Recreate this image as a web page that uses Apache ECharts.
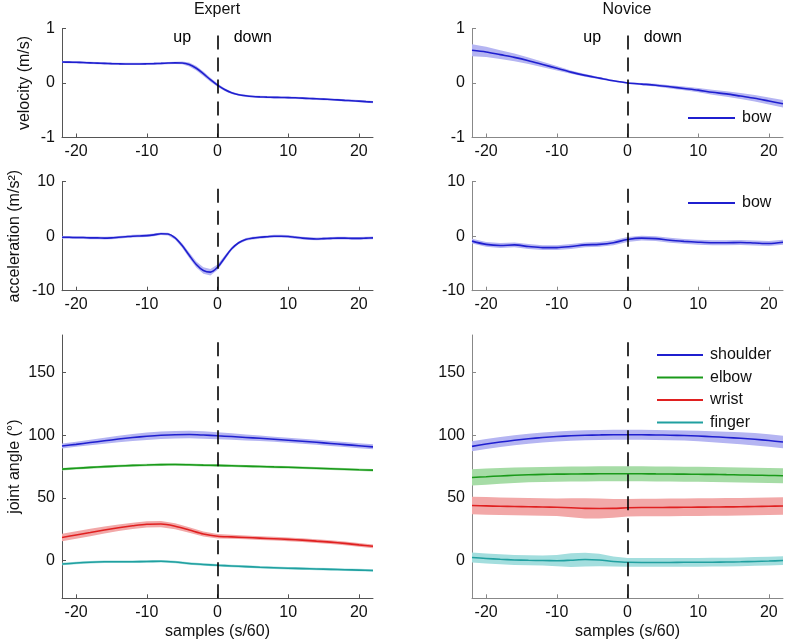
<!DOCTYPE html>
<html><head><meta charset="utf-8">
<script src="https://cdn.jsdelivr.net/npm/echarts@6/dist/echarts.min.js"></script>
<style>html,body{margin:0;padding:0;background:#fff}#c{width:787px;height:644px}</style>
</head><body><div id="c"></div>
<script>
// ---------- data ----------
const xFine = [-22,-21,-20,-19,-18,-17,-16,-15,-14,-13,-12,-11,-10,-9,-8,-7,-6,-5,-4,-3,-2,-1,0,1,2,3,4,5,6,7,8,9,10,11,12,13,14,15,16,17,18,19,20,21,22];
const xCoarse = [-22,-20,-18,-16,-14,-12,-10,-8,-6,-4,-2,0,2,4,6,8,10,12,14,16,18,20,22];
const xTicks = [-20,-10,0,10,20];
const velTicks = [-1,0,1];
const accTicks = [-10,0,10];
const angleTicks = [0,50,100,150];
const onsetX = 0;
const phaseNames = ['up','down'];
const phaseX = [-5,5];
const phaseY = 0.83;
const panelTitles = ['Expert','Novice'];
const jointNames = ['shoulder','elbow','wrist','finger'];

// Expert velocity / acceleration (per sample)
const expVel = [0.385,0.383,0.38,0.375,0.37,0.365,0.36,0.355,0.352,0.35,0.35,0.35,0.352,0.355,0.36,0.366,0.37,0.368,0.34,0.27,0.17,0.06,-0.04,-0.12,-0.18,-0.215,-0.235,-0.248,-0.255,-0.26,-0.263,-0.266,-0.268,-0.272,-0.278,-0.285,-0.29,-0.296,-0.303,-0.31,-0.318,-0.325,-0.333,-0.342,-0.35];
const expVelSd = [0.02,0.02,0.02,0.02,0.02,0.02,0.02,0.02,0.02,0.02,0.02,0.02,0.02,0.02,0.02,0.02,0.02,0.025,0.035,0.04,0.04,0.035,0.03,0.025,0.02,0.02,0.02,0.02,0.02,0.02,0.02,0.02,0.02,0.02,0.02,0.02,0.02,0.02,0.02,0.02,0.02,0.02,0.02,0.02,0.02];
const expAcc = [-0.2,-0.2,-0.25,-0.25,-0.3,-0.3,-0.35,-0.3,-0.2,-0.1,0.0,0.05,0.1,0.25,0.45,0.4,-0.3,-1.7,-3.5,-5.2,-6.3,-6.6,-5.7,-4.0,-2.3,-1.2,-0.6,-0.35,-0.2,-0.1,0.0,0.0,-0.05,-0.2,-0.35,-0.45,-0.5,-0.45,-0.4,-0.35,-0.35,-0.4,-0.4,-0.35,-0.3];
const expAccSd = [0.25,0.25,0.25,0.25,0.25,0.25,0.25,0.25,0.25,0.25,0.25,0.25,0.25,0.25,0.25,0.25,0.3,0.4,0.5,0.55,0.6,0.6,0.5,0.4,0.3,0.25,0.25,0.25,0.25,0.25,0.25,0.25,0.25,0.25,0.25,0.25,0.25,0.25,0.25,0.25,0.25,0.25,0.25,0.25,0.25];

// Novice velocity / acceleration (every 2 samples)
const novVel = [0.6,0.57,0.52,0.47,0.41,0.34,0.27,0.2,0.14,0.09,0.04,0.0,-0.02,-0.04,-0.07,-0.1,-0.13,-0.17,-0.2,-0.24,-0.28,-0.33,-0.38];
const novVelSd = [0.11,0.095,0.08,0.07,0.06,0.05,0.04,0.03,0.025,0.02,0.015,0.015,0.02,0.025,0.03,0.035,0.04,0.045,0.05,0.055,0.06,0.065,0.07];
const novAcc = [-0.9,-1.5,-1.7,-1.6,-1.9,-2.1,-2.1,-1.9,-1.6,-1.5,-1.2,-0.6,-0.35,-0.45,-0.75,-0.95,-1.1,-1.2,-1.2,-1.15,-1.25,-1.35,-1.1];
const novAccSd = [0.45,0.45,0.45,0.45,0.45,0.45,0.45,0.45,0.45,0.45,0.45,0.45,0.45,0.45,0.45,0.45,0.45,0.45,0.45,0.45,0.45,0.45,0.45];

// Expert joint angles
const expSh = [91.5,92.8,94.2,95.6,97,98.2,99.2,100,100.5,100.6,100.2,99.6,99,98.3,97.6,96.8,96,95.2,94.4,93.5,92.6,91.7,90.8];
const expShSd = [2,2,2.2,2.4,2.6,2.8,3,3,3,3,3,2.8,2.6,2.4,2.2,2,2,2,2,2,2,2,2];
const expEl = [73,73.7,74.4,75,75.5,76,76.3,76.6,76.7,76.5,76.2,76,75.7,75.4,75.1,74.8,74.5,74.1,73.7,73.3,72.9,72.5,72.2];
const expElSd = [1,1,1,1,1,1,1,1,1,1,1,1,1,1,1,1,1,1,1,1,1,1,1];
const expWr = [18.5,20.5,22.5,24.5,26.3,27.8,29,29.2,27.5,24.5,21.3,19.5,19,18.5,18,17.5,17,16.4,15.6,14.8,13.8,12.6,11.5];
const expWrSd = [3,3,3,2.8,2.6,2.5,2.5,2.5,2.4,2.2,2,1.8,1.6,1.5,1.5,1.5,1.5,1.5,1.5,1.5,1.5,1.5,1.5];
const expFi = [-2.7,-1.8,-1.2,-0.9,-0.8,-0.8,-0.7,-0.4,-1.0,-2.2,-3,-3.7,-4.2,-4.7,-5.2,-5.6,-6,-6.3,-6.6,-6.9,-7.2,-7.5,-7.8];
const expFiSd = [1,1,1,1,1,1,1,1,1,1,1,1,1,1,1,1,1,1,1,1,1,1,1];

// Novice joint angles
const novSh = [91.2,93,94.6,96,97.2,98.2,99,99.6,100,100.3,100.5,100.5,100.4,100.3,100.1,99.8,99.4,98.9,98.3,97.6,96.8,95.8,94.6];
const novShSd = [4,4,4,4,4,4,4,4,4,4,4,4,4,4,4,4,4.2,4.4,4.6,4.8,5,5,5];
const novEl = [66.4,67,67.6,68.1,68.5,68.8,69,69.1,69.2,69.3,69.3,69.3,69.3,69.2,69.1,69,68.9,68.8,68.6,68.4,68.2,68,67.8];
const novElSd = [6.5,6.5,6.3,6.2,6,6,6,6,6,6,6,6,6,6,6,6,6,6,6,6,6,6,6];
const novWr = [44,43.7,43.4,43.2,43,42.8,42.6,42.2,41.7,41.6,41.7,42.2,42.4,42.4,42.5,42.6,42.7,42.8,42.9,43,43.2,43.4,43.6];
const novWrSd = [7,7,7,7,7,7,7,7.5,8,8,7.5,7,7,7,7,7,7,7,7,7,7,7,7];
const novFi = [2.5,1.8,1.1,0.6,0.3,0.1,0,0.4,0.9,0.5,-0.6,-1.3,-1.4,-1.4,-1.4,-1.3,-1.3,-1.2,-1.1,-0.9,-0.6,-0.3,0.1];
const novFiSd = [4,4,4,4,4,4,4.5,5.5,5.5,5,4,3.5,3.5,3.5,3.5,3.5,3.5,3.5,3.5,3.5,3.5,3.5,3.5];

// ---------- styling ----------
const FONT = '"Liberation Sans", Arial, sans-serif';
const FS = 16;
const lineCol = {shoulder:'#1f1fcf', elbow:'#1a9a1a', wrist:'#e02020', finger:'#20a0a0', bow:'#1f1fcf'};
const bandCol = {shoulder:'#b5b5f2', elbow:'#a6dca6', wrist:'#f2a8a8', finger:'#a3dede', bow:'#b5b5f2'};

const grids = [
  {left:62, width:311, top:28.5, height:109},
  {left:472, width:311, top:28.5, height:109},
  {left:62, width:311, top:181.7, height:109},
  {left:472, width:311, top:181.7, height:109},
  {left:62, width:311, top:335, height:263.3},
  {left:472, width:311, top:335, height:263.3}
];
const yRanges = [[-1,1,velTicks],[-1,1,velTicks],[-10,10,accTicks],[-10,10,accTicks],[-30,180,angleTicks],[-30,180,angleTicks]];
const yNames = ['velocity (m/s)','','acceleration (m/s²)','','joint angle (°)',''];
const yGaps = [29,0,39,0,39,0];

const xAxes = grids.map((g,i)=>({
  type:'value', gridIndex:i, min:-22, max:22,
  axisLine:{show:true, onZero:false, lineStyle:{color: i%2? '#888':'#555', width:1}},
  axisTick:{show:true, inside:true, length:4, customValues:xTicks, lineStyle:{color: i%2? '#888':'#555'}},
  axisLabel:{customValues:xTicks, fontSize:FS, fontFamily:FONT, color:'#111', margin:6},
  splitLine:{show:false},
  name: i>=4 ? 'samples (s/60)' : '', nameLocation:'middle', nameGap:25,
  nameTextStyle:{fontSize:FS, fontFamily:FONT, color:'#111'}
}));
const yAxes = grids.map((g,i)=>({
  type:'value', gridIndex:i, min:yRanges[i][0], max:yRanges[i][1],
  axisLine:{show:true, onZero:false, lineStyle:{color: i%2? '#888':'#555', width:1}},
  axisTick:{show:true, inside:true, length:4, customValues:yRanges[i][2], lineStyle:{color: i%2? '#888':'#555'}},
  axisLabel:{customValues:yRanges[i][2], fontSize:FS, fontFamily:FONT, color:'#111', margin:7},
  splitLine:{show:false},
  name:yNames[i], nameLocation:'middle', nameGap:yGaps[i],
  nameTextStyle:{fontSize:FS, fontFamily:FONT, color:'#111'}
}));

const series = [];
function addBand(gi, name, xs, mean, sd){
  const pts = xs.map((x,k)=>[x, mean[k]-sd[k], mean[k]+sd[k]]);
  series.push({
    type:'custom', xAxisIndex:gi, yAxisIndex:gi, silent:true, clip:true, z:1,
    data: pts, encode:{x:0, y:[1,2]},
    renderItem: function(params, api){
      if (params.dataIndex !== 0) return null;
      const upper = pts.map(p=>api.coord([p[0], p[2]]));
      const lower = pts.map(p=>api.coord([p[0], p[1]])).reverse();
      return {type:'polygon', shape:{points: upper.concat(lower)},
        style:{fill:bandCol[name], stroke:null}};
    }
  });
}
function addLine(gi, name, xs, mean, withMark){
  const s = {
    type:'line', name:name, xAxisIndex:gi, yAxisIndex:gi, color:lineCol[name],
    data: xs.map((x,k)=>[x, mean[k]]), symbol:'none', smooth:0.3,
    lineStyle:{color:lineCol[name], width:1.6}, z:3
  };
  if (withMark) {
    s.markLine = {silent:true, symbol:'none', label:{show:false}, animation:false,
      lineStyle:{color:'#000', type:[14,8], width:1.6}, data:[{xAxis:onsetX}]};
  }
  series.push(s);
}

addBand(0,'bow',xFine,expVel,expVelSd); addLine(0,'bow',xFine,expVel,true);
addBand(1,'bow',xCoarse,novVel,novVelSd); addLine(1,'bow',xCoarse,novVel,true);
addBand(2,'bow',xFine,expAcc,expAccSd); addLine(2,'bow',xFine,expAcc,true);
addBand(3,'bow',xCoarse,novAcc,novAccSd); addLine(3,'bow',xCoarse,novAcc,true);
const expJ = [[expSh,expShSd],[expEl,expElSd],[expWr,expWrSd],[expFi,expFiSd]];
const novJ = [[novSh,novShSd],[novEl,novElSd],[novWr,novWrSd],[novFi,novFiSd]];
jointNames.forEach((n,j)=>{ addBand(4,n,xCoarse,expJ[j][0],expJ[j][1]); });
jointNames.forEach((n,j)=>{ addLine(4,n,xCoarse,expJ[j][0],j===0); });
jointNames.forEach((n,j)=>{ addBand(5,n,xCoarse,novJ[j][0],novJ[j][1]); });
jointNames.forEach((n,j)=>{ addLine(5,n,xCoarse,novJ[j][0],j===0); });

[0,1].forEach(gi=>{
  series.push({
    type:'scatter', xAxisIndex:gi, yAxisIndex:gi, symbolSize:0, silent:true,
    data: phaseNames.map((nm,k)=>({name:nm, value:[phaseX[k], phaseY]})),
    label:{show:true, position:'inside', formatter:'{b}', fontSize:FS, fontFamily:FONT, color:'#000'},
    itemStyle:{opacity:1}
  });
});

const legendCommon = {
  orient:'vertical', icon:'rect', itemWidth:47, itemHeight:2, selectedMode:false,
  textStyle:{fontSize:FS, fontFamily:FONT, color:'#111', padding:[0,0,0,2]}, padding:0
};
const option = {
  animation:false,
  backgroundColor:'#fff',
  grid: grids,
  xAxis: xAxes,
  yAxis: yAxes,
  series: series,
  legend: [
    Object.assign({}, legendCommon, {data:['bow'], left:688, top:110}),
    Object.assign({}, legendCommon, {data:['bow'], left:688, top:195}),
    Object.assign({}, legendCommon, {data:jointNames, left:657, top:347, itemGap:6.5, itemWidth:46})
  ],
  graphic: panelTitles.map((t,k)=>({
    type:'text', x: k===0 ? 217 : 627, y: 10,
    style:{text:t, align:'center', verticalAlign:'middle', fontSize:FS, fontFamily:FONT, fill:'#111'}
  }))
};
const chart = echarts.init(document.getElementById('c'), null, {renderer:'canvas'});
chart.setOption(option);
</script>
</body></html>
